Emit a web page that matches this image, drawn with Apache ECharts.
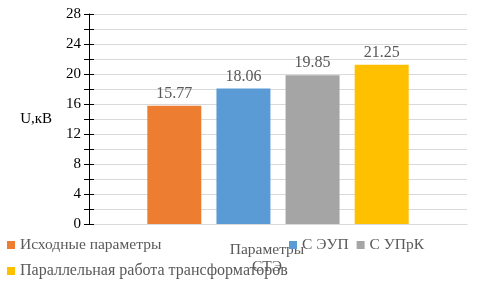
<!DOCTYPE html>
<html><head><meta charset="utf-8">
<script src="https://cdn.jsdelivr.net/npm/echarts@6/dist/echarts.min.js"></script>
<style>html,body{margin:0;padding:0;background:#fff}#c{width:477px;height:295px}</style>
</head><body><div id="c"></div>
<script>
var categories = [''];
var seriesNames = ['Исходные параметры', 'С ЭУП', 'С УПрК', 'Параллельная работа трансформаторов'];
var seriesValues = [[15.77], [18.06], [19.85], [21.25]];
var seriesColors = ['#ED7D31', '#5B9BD5', '#A5A5A5', '#FFC000'];
var yTickLabels = ['0', '4', '8', '12', '16', '20', '24', '28'];

var FONT = '"Liberation Serif", "DejaVu Serif", serif';
var chart = echarts.init(document.getElementById('c'));
var series = seriesNames.map(function (n, i) {
  return {
    name: n, type: 'bar', data: seriesValues[i], barWidth: 54, barGap: '28%',
    itemStyle: { color: seriesColors[i] },
    label: { show: true, position: 'top', distance: 4, color: '#595959', fontFamily: FONT, fontSize: 16,
      formatter: function (p) { return p.value.toFixed(2); } }
  };
});
var legendBase = { icon: 'rect', itemWidth: 8, itemHeight: 8, itemGap: 8, orient: 'horizontal',
  textStyle: { color: '#595959', fontFamily: FONT, fontSize: 15.5 }, selectedMode: false };
chart.setOption({
  animation: false,
  grid: { left: 89, right: 10, top: 14, bottom: 71 },
  legend: [
    Object.assign({}, legendBase, { left: 2, top: 232, data: [seriesNames[0]] }),
    Object.assign({}, legendBase, { left: 284, top: 232, data: [seriesNames[1], seriesNames[2]] }),
    Object.assign({}, legendBase, { left: 2, top: 258, data: [seriesNames[3]],
      textStyle: { color: '#595959', fontFamily: FONT, fontSize: 16 } })
  ],
  xAxis: {
    type: 'category', data: categories,
    name: 'Параметры\nСТЭ', nameLocation: 'middle', nameGap: 17,
    nameTextStyle: { color: '#595959', fontFamily: FONT, fontSize: 15.5, lineHeight: 17, padding: [0, 22, 0, 0] },
    axisLine: { lineStyle: { color: '#D9D9D9' } }, axisTick: { show: false }, axisLabel: { show: false }
  },
  yAxis: [{
    type: 'value', min: 0, max: 28, interval: 2,
    name: 'U,кВ', nameLocation: 'middle', nameRotate: 0, nameGap: 37,
    nameTextStyle: { color: '#000', fontFamily: FONT, fontSize: 15 },
    axisLine: { show: true, lineStyle: { color: '#000', width: 1 } },
    axisTick: { show: true, length: 5, lineStyle: { color: '#000' } },
    axisLabel: { color: '#000', fontFamily: FONT, fontSize: 15, margin: 8,
      formatter: function (v) { return yTickLabels.indexOf(String(v)) >= 0 ? String(v) : ''; } },
    splitLine: { lineStyle: { color: '#D9D9D9' } }
  }, {
    type: 'value', min: 0, max: 28, interval: 2, position: 'left',
    axisLine: { show: false },
    axisTick: { show: true, inside: true, length: 5, lineStyle: { color: '#000' } },
    axisLabel: { show: false }, splitLine: { show: false }
  }],
  series: series
});
</script></body></html>
